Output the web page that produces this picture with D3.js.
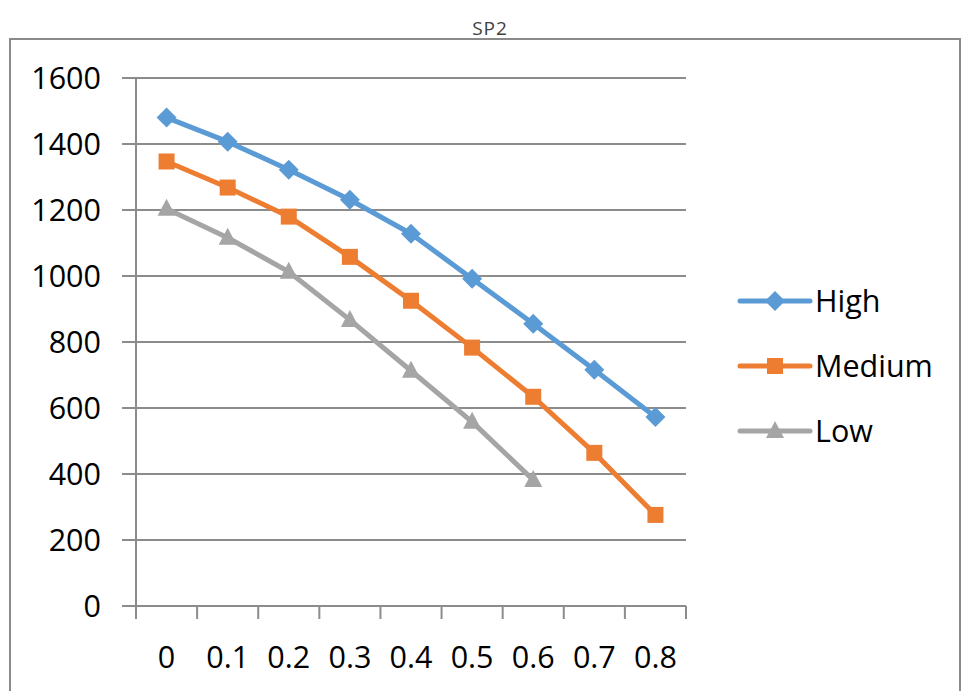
<!DOCTYPE html>
<html><head><meta charset="utf-8">
<script src="https://cdn.jsdelivr.net/npm/d3@7"></script>
<style>body{margin:0;background:#fff}svg{display:block}</style>
</head><body>
<svg id="c" width="966" height="691"></svg>
<script>
const categories = ["0","0.1","0.2","0.3","0.4","0.5","0.6","0.7","0.8"];
const high = [1480,1407,1322,1231,1128,992,855,716,573];
const medium = [1347,1268,1180,1058,925,783,634,464,276];
const low = [1204,1116,1013,867,713,558,382];
const yTicks = [0,200,400,600,800,1000,1200,1400,1600];
const seriesNames = ["High","Medium","Low"];
const colors = ["#5B9BD5","#ED7D31","#A5A5A5"];

const svg = d3.select("#c");
const font = "'Open Sans', 'Liberation Sans', Arial, sans-serif";
// frame
svg.append("rect").attr("x",10).attr("y",39).attr("width",950).attr("height",700)
  .attr("fill","none").attr("stroke","#8a8a8a").attr("stroke-width",2);
svg.append("text").attr("x",490).attr("y",35).attr("text-anchor","middle")
  .attr("font-family",font).attr("font-size",19).attr("letter-spacing",1)
  .attr("fill","#404040").text("SP2");

const x = d3.scaleBand().domain(categories).range([136,686]);
const y = d3.scaleLinear().domain([0,1600]).range([606,78]);

// gridlines
const g = svg.append("g");
g.selectAll("line.grid").data(yTicks).join("line")
  .attr("x1",122).attr("x2",686).attr("y1",d=>y(d)).attr("y2",d=>y(d))
  .attr("stroke","#8c8c8c").attr("stroke-width",2);
// y axis line
g.append("line").attr("x1",136).attr("x2",136).attr("y1",78).attr("y2",606)
  .attr("stroke","#8c8c8c").attr("stroke-width",2);
// x ticks at band boundaries
const bounds = categories.map(c=>x(c)).concat([x.range()[1]]);
g.selectAll("line.xt").data(bounds).join("line")
  .attr("x1",d=>d).attr("x2",d=>d).attr("y1",606).attr("y2",619)
  .attr("stroke","#8c8c8c").attr("stroke-width",2);
// y labels
g.selectAll("text.yl").data(yTicks).join("text")
  .attr("x",101).attr("y",d=>y(d)).attr("dy","0.36em").attr("text-anchor","end")
  .attr("font-family",font).attr("font-size",30.5).attr("fill","#000").text(d=>d);
// x labels
g.selectAll("text.xl").data(categories).join("text")
  .attr("x",d=>x(d)+x.bandwidth()/2).attr("y",668).attr("text-anchor","middle")
  .attr("font-family",font).attr("font-size",30.5).attr("fill","#000").text(d=>d);

const data = [high, medium, low];
const line = d3.line().x((d,i)=>x(categories[i])+x.bandwidth()/2).y(d=>y(d));

function marker(sel, k, cx, cy){
  if(k===0){
    sel.append("path").attr("d",`M${cx},${cy-10}L${cx+10},${cy}L${cx},${cy+10}L${cx-10},${cy}Z`).attr("fill",colors[k]);
  } else if(k===1){
    sel.append("rect").attr("x",cx-8).attr("y",cy-8).attr("width",16).attr("height",16).attr("fill",colors[k]);
  } else {
    sel.append("path").attr("d",`M${cx},${cy-10}L${cx+9},${cy+7}L${cx-9},${cy+7}Z`).attr("fill",colors[k]);
  }
}

data.forEach((vals,k)=>{
  svg.append("path").datum(vals).attr("d",line).attr("fill","none")
    .attr("stroke",colors[k]).attr("stroke-width",5).attr("stroke-linejoin","round");
  const mg = svg.append("g");
  vals.forEach((v,i)=>marker(mg,k,x(categories[i])+x.bandwidth()/2,y(v)));
});

// legend
seriesNames.forEach((n,k)=>{
  const ly = 301 + k*65;
  svg.append("line").attr("x1",740).attr("x2",810).attr("y1",ly).attr("y2",ly)
    .attr("stroke",colors[k]).attr("stroke-width",5).attr("stroke-linecap","round");
  marker(svg,k,775,ly);
  svg.append("text").attr("x",815).attr("y",ly).attr("dy","0.36em")
    .attr("font-family",font).attr("font-size",30.5).attr("fill","#000").text(n);
});
</script>
</body></html>
